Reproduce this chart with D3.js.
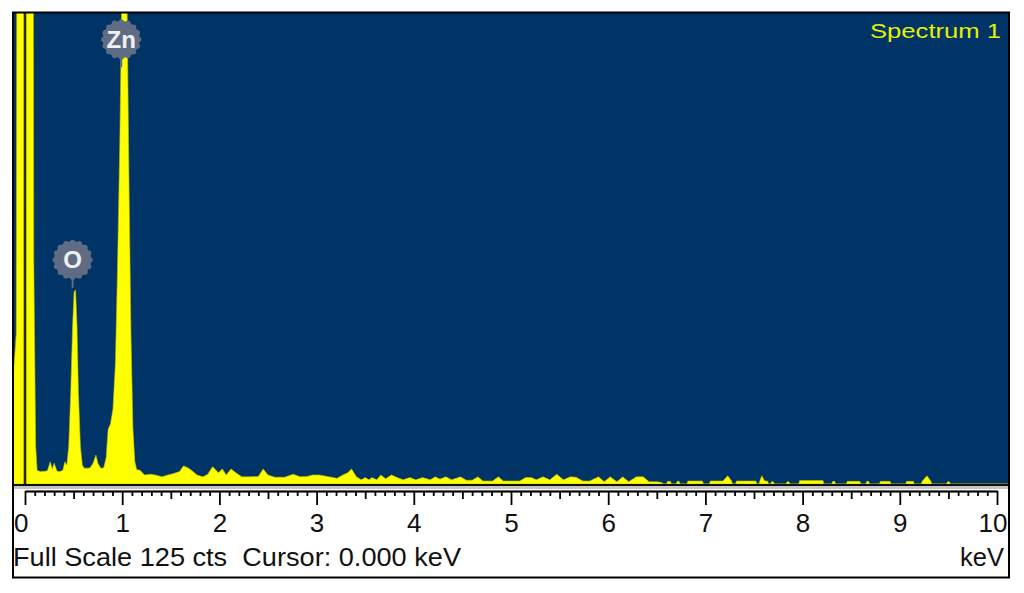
<!DOCTYPE html>
<html><head><meta charset="utf-8">
<script src="https://cdn.jsdelivr.net/npm/d3@7"></script>
<style>body{margin:0;background:#fff}svg{display:block}</style>
</head><body><svg id="c" width="1024" height="593"></svg>
<script>
// ---- data ----
const energies = [
-0.13,-0.09,-0.07,0.075,0.09,0.11,0.125,0.16,0.2,0.23,0.26,0.28,0.30,0.33,0.36,0.39,0.41,0.43,
0.45,0.47,0.49,0.505,0.52,0.535,0.55,0.57,0.59,0.61,0.64,0.67,0.70,0.73,0.75,0.78,0.81,0.835,0.855,0.88,0.905,0.93,0.95,0.975,0.995,1.01,1.035,1.05,1.07,1.09,1.11,1.13,1.15,
1.18,1.23,1.29,1.34,1.41,1.47,1.53,1.59,1.63,1.67,1.71,1.77,1.83,1.88,1.93,1.99,2.03,2.07,2.12,2.18,2.23,2.31,2.40,2.45,2.50,2.57,2.67,2.76,2.83,2.90,2.96,3.03,3.11,3.21,3.27,3.32,3.36,3.41,
3.46,3.50,3.54,3.57,3.62,3.66,3.71,3.77,3.83,3.89,3.96,4.02,4.09,4.17,4.22,4.27,4.33,4.39,4.48,4.54,4.60,4.66,4.71,4.81,4.87,4.92,5.09,5.15,5.21,5.26,5.33,5.40,5.47,5.54,5.61,5.67,5.74,5.81,5.90,5.96,6.02,6.09,6.15,6.21,6.29,6.36,6.42,6.50,6.55,6.57,
6.60,6.61,6.64,6.65,6.70,6.71,6.73,6.74,6.81,6.82,6.97,6.98,7.04,7.05,7.18,7.23,7.27,7.28,7.31,7.32,7.52,7.53,7.55,7.56,7.58,7.61,7.64,7.65,7.67,7.68,7.70,7.71,7.83,7.84,7.86,7.87,
7.96,7.97,8.21,8.22,8.30,8.31,8.33,8.34,8.45,8.46,8.59,8.60,8.65,8.66,8.68,8.69,8.79,8.80,8.90,8.91,9.06,9.07,9.14,9.15,9.22,9.23,9.28,9.32,9.33,9.48,9.49,9.51,9.52,10.2];
const counts = [
25,40,400,400,60,10,3.6,3.3,3.4,3.5,5.9,4.0,5.5,3.4,3.3,3.7,5.9,5.0,
10,24,42,51,51.5,42,24,10,5.0,4.2,4.2,4.3,5.5,7.7,5.5,4.2,4.3,7.0,14.5,16,20,32,55,90,128,150,150,128,80,40,15,6,3.8,
3.7,2.4,2.6,2.4,1.9,2.4,2.8,3.3,4.8,4.4,3.7,2.4,1.9,2.6,4.6,3.0,4.0,2.4,4.0,2.8,1.9,1.9,2.0,4.0,2.4,1.8,1.8,2.6,1.9,2.0,2.4,2.4,2.0,1.5,2.4,3.0,4.0,1.9,
1.1,1.7,1.1,1.7,1.1,2.4,1.4,2.4,1.7,1.1,1.7,1.1,1.7,1.1,1.9,1.3,1.9,1.1,1.9,1.0,1.0,1.9,0.8,0.8,1.9,0.8,0.8,1.7,1.7,1.1,1.9,1.1,2.6,1.1,1.9,1.8,0.8,0.8,1.9,0.6,1.9,0.6,1.9,0.6,1.9,1.9,0.6,0.6,0.4,0,
0,0.7,0.7,0,0,0.7,0.7,0,0,0.8,0.8,0,0,0.8,0.8,2.2,0.8,0,0,0.8,0.8,0,0,0.8,2.2,0.8,0.8,0,0,0.6,0.6,0,0,0.6,0.6,0,
0,0.9,0.9,0,0,0.7,0.7,0,0,0.7,0.7,0,0,0.7,0.7,0,0,0.7,0.7,0,0,0.7,0.7,0,0,0.7,2.2,0.7,0,0,0.6,0.6,0,0];
const majorTicks = [0,1,2,3,4,5,6,7,8,9,10];
const midTicks = [0.5,1.5,2.5,3.5,4.5,5.5,6.5,7.5,8.5,9.5];
const fullScale = 125;
const peakLabels = ["O","Zn"];
const peakLabelKeV = [0.49, 0.99];
const peakLabelCts = [59.5, 118];
const spectrumName = "Spectrum 1";
const footerText = "Full Scale 125 cts  Cursor: 0.000 keV";
const unitText = "keV";
const cursorKeV = 0;

// ---- drawing ----
const svg = d3.select("#c");
const L = 13, R = 1008, T = 13, B = 484;
const x = d3.scaleLinear().domain([0, 10]).range([25, 997]);
const y = d3.scaleLinear().domain([0, fullScale]).range([B, T]);
const blue = "#003366";
const font = "Liberation Sans, Arial, sans-serif";

svg.append("rect").attr("width",1024).attr("height",593).attr("fill","#fff");
svg.append("rect").attr("x",L).attr("y",T).attr("width",R-L).attr("height",B-T).attr("fill",blue);

svg.append("defs").append("clipPath").attr("id","pc")
  .append("rect").attr("x",L).attr("y",T).attr("width",R-L).attr("height",B-T);

const data = energies.map((e,i)=>[e, counts[i]]);
const area = d3.area().x(d=>x(d[0])).y0(y(0)).y1(d=>y(d[1]));
const g = svg.append("g").attr("clip-path","url(#pc)");
g.append("path").datum(data).attr("d",area).attr("fill","#ffff00")
  .attr("stroke","#b8c000").attr("stroke-width",0.6);

// cursor line
g.append("line").attr("x1",x(cursorKeV)).attr("x2",x(cursorKeV)).attr("y1",T).attr("y2",B)
  .attr("stroke","#2a2a08").attr("stroke-width",2.6);

// bottom edge + gray band
svg.append("rect").attr("x",L).attr("y",B).attr("width",R-L).attr("height",2).attr("fill","#111");
svg.append("rect").attr("x",L).attr("y",B+2).attr("width",R-L).attr("height",3).attr("fill","#c4c4c4");

// peak labels
const gray = "#606c84";
peakLabels.forEach((lab,i)=>{
  const cx = x(peakLabelKeV[i]), cy = y(peakLabelCts[i]);
  const r = 20;
  const lg = svg.append("g");
  lg.append("line").attr("x1",cx).attr("x2",cx).attr("y1",cy).attr("y2",cy+r+8)
    .attr("stroke",gray).attr("stroke-width",2);
  lg.append("circle").attr("cx",cx).attr("cy",cy).attr("r",r-1.5).attr("fill",gray);
  d3.range(16).forEach(k=>{
    const a = k/16*2*Math.PI;
    lg.append("circle").attr("cx",cx+Math.cos(a)*(r-2.5)).attr("cy",cy+Math.sin(a)*(r-2.5))
      .attr("r",2.6).attr("fill",gray);
  });
  lg.append("text").attr("x",cx).attr("y",cy+8.5).attr("text-anchor","middle")
    .attr("font-family",font).attr("font-weight","bold")
    .attr("font-size",24).attr("fill","#eef0f4").text(lab);
});

// spectrum name
svg.append("text").attr("x",1001).attr("y",38).attr("text-anchor","end")
  .attr("font-family",font).attr("font-size",20)
  .attr("textLength",131).attr("lengthAdjust","spacingAndGlyphs")
  .attr("fill","#e8f000").text(spectrumName);

// axes
const ay = 491;
const minorTicks = d3.range(0, 101).map(i=>i/10).filter(v=>Math.abs(v-Math.round(v*2)/2)>1e-6);
const axMinor = d3.axisBottom(x).tickValues(minorTicks).tickSize(5).tickFormat("").tickSizeOuter(0);
const axMid = d3.axisBottom(x).tickValues(midTicks).tickSize(8).tickFormat("").tickSizeOuter(0);
const axMajor = d3.axisBottom(x).tickValues(majorTicks).tickSize(14).tickPadding(8.5)
  .tickFormat(d3.format("d")).tickSizeOuter(0);
[axMinor, axMid, axMajor].forEach(ax=>{
  const a = svg.append("g").attr("transform",`translate(0,${ay})`).call(ax);
  a.selectAll("line").attr("stroke","#000").attr("stroke-width",1.8);
  a.select(".domain").attr("stroke","#000").attr("stroke-width",1.6);
  a.selectAll("text").attr("font-family",font).attr("font-size",26).attr("fill","#111");
});
// first and last labels are pinned inside the frame
svg.selectAll(".tick text").each(function(d){
  const t = d3.select(this);
  const cx = x(d);
  if (d === majorTicks[0]) t.attr("text-anchor","start").attr("x", L + 0.5 - cx);
  if (d === majorTicks[majorTicks.length-1]) t.attr("text-anchor","end").attr("x", R - 1 - cx);
});

// footer
svg.append("text").attr("x",L).attr("y",566).attr("xml:space","preserve").style("white-space","pre")
  .attr("font-family",font).attr("font-size",25.5)
  .attr("textLength",448).attr("lengthAdjust","spacingAndGlyphs")
  .attr("fill","#111").text(footerText);
svg.append("text").attr("x",1004).attr("y",566).attr("text-anchor","end")
  .attr("font-family",font).attr("font-size",25.5)
  .attr("fill","#111").text(unitText);

// frame
svg.append("rect").attr("x",L).attr("y",T-0.5).attr("width",R-L+1).attr("height",578-T)
  .attr("fill","none").attr("stroke","#000").attr("stroke-width",2);
</script></body></html>
